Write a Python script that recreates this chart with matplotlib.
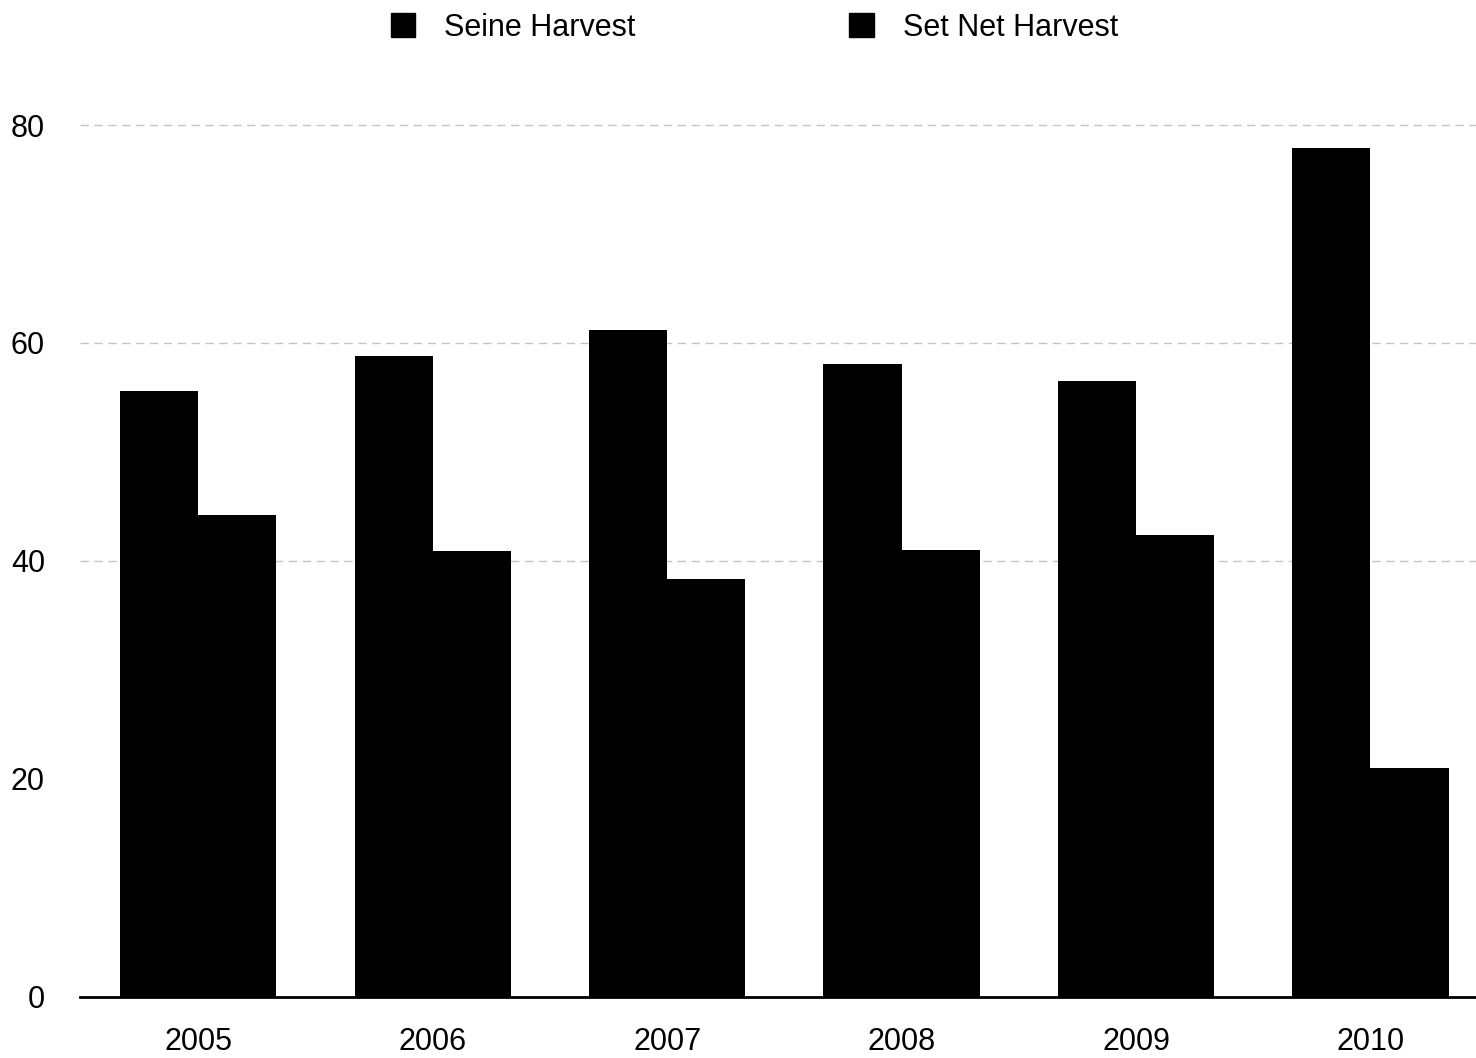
import numpy as np
import matplotlib
matplotlib.use('Agg')
import matplotlib.pyplot as plt
from matplotlib.patches import Patch

# harvest values
years = ['2005', '2006', '2007', '2008', '2009', '2010']
seine = [55.6, 58.8, 61.2, 58.1, 56.5, 77.9]
setnet = [44.2, 40.9, 38.3, 41.0, 42.4, 21.0]
yticks = [0, 20, 40, 60, 80]
grid_levels = [40, 60, 80]

plt.rcParams['font.family'] = ['Liberation Sans', 'DejaVu Sans']

fig = plt.figure(figsize=(14.76, 10.58), dpi=100)
ax = fig.add_axes([0.054, 0.058, 0.946, 0.832])

x = np.arange(len(years))
w = 0.333
for g in grid_levels:
	ax.axhline(g, color='#c4c4c4', lw=1.0, ls=(0, (6, 4)), zorder=0)
ax.bar(x - w, seine, w, align='edge', color='black', zorder=2)
ax.bar(x, setnet, w, align='edge', color='black', zorder=2)

ax.set_xlim(-0.505, 5.45)
ax.set_ylim(0, 80.8)
ax.set_xticks(x)
ax.set_xticklabels(years, fontsize=22)
ax.set_yticks(yticks)
ax.set_yticklabels([str(t) for t in yticks], fontsize=22)
ax.tick_params(length=0, pad=22)
ax.tick_params(axis='y', pad=25)
for s in ['top', 'right', 'left']:
	ax.spines[s].set_visible(False)
ax.spines['bottom'].set_linewidth(2)

handles = [Patch(color='black', label='Seine Harvest'), Patch(color='black', label='Set Net Harvest')]
fig.legend(handles=handles, loc='upper center', bbox_to_anchor=(0.511, 1.014), ncol=2,
	frameon=False, fontsize=22, handlelength=0.8, handleheight=0.8, columnspacing=7.0,
	handletextpad=0.95)

fig.savefig('out.png', dpi=100)
